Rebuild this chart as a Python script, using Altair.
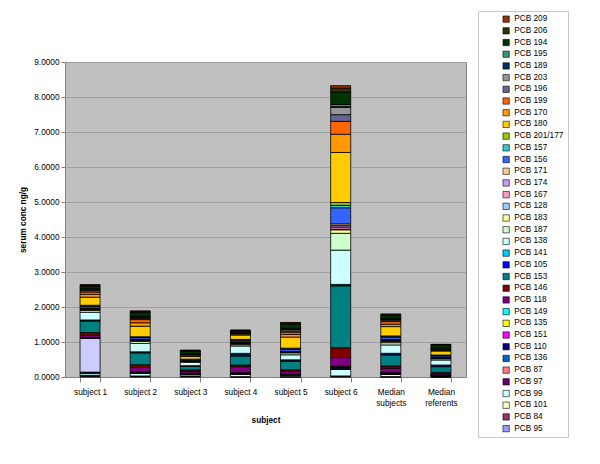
import altair as alt
import pandas as pd

categories = ["subject 1", "subject 2", "subject 3", "subject 4", "subject 5",
              "subject 6", "Median subjects", "Median referents"]

UNLISTED = "unlisted congener"

# stacking order, bottom to top
series = ["PCB 95", "PCB 84", "PCB 101", "PCB 99", "PCB 97", "PCB 87", "PCB 136", UNLISTED,
          "PCB 110", "PCB 151", "PCB 135", "PCB 149", "PCB 118", "PCB 146", "PCB 153",
          "PCB 105", "PCB 141", "PCB 138", "PCB 187", "PCB 183", "PCB 128", "PCB 167",
          "PCB 174", "PCB 171", "PCB 156", "PCB 157", "PCB 201/177", "PCB 180", "PCB 170",
          "PCB 199", "PCB 196", "PCB 203", "PCB 189", "PCB 195", "PCB 194", "PCB 206", "PCB 209"]

colors = ["#9999FF", "#993366", "#FFFFCC", "#CCFFFF", "#660066", "#FF8080", "#0066CC", "#CCCCFF",
          "#000080", "#FF00FF", "#FFFF00", "#00FFFF", "#800080", "#800000", "#008080",
          "#0000FF", "#00CCFF", "#CCFFFF", "#CCFFCC", "#FFFF99", "#99CCFF", "#FF99CC",
          "#CC99FF", "#FFCC99", "#3366FF", "#33CCCC", "#99CC00", "#FFCC00", "#FF9900",
          "#FF6600", "#666699", "#969696", "#003366", "#339966", "#003300", "#333300", "#993300"]

subject_1 = [0.02, 0.015, 0.015, 0.06, 0.01, 0.01, 0.01, 0.96,
             0.01, 0.005, 0.01, 0.005, 0.06, 0.08, 0.33,
             0.015, 0.015, 0.22, 0.05, 0.03, 0.01, 0.01,
             0.01, 0.01, 0.05, 0.01, 0.02, 0.23, 0.08,
             0.07, 0.04, 0.03, 0.01, 0.01, 0.07, 0.03, 0.02]

subject_2 = [0.01, 0.01, 0.01, 0.08, 0.005, 0.005, 0.005, 0.005,
             0.005, 0.005, 0.005, 0.005, 0.12, 0.08, 0.34,
             0.015, 0.015, 0.24, 0.06, 0.02, 0.01, 0.01,
             0.01, 0.01, 0.05, 0.01, 0.01, 0.30, 0.10,
             0.09, 0.03, 0.03, 0.02, 0.02, 0.10, 0.03, 0.02]

subject_3 = [0.01, 0.01, 0.01, 0.04, 0.005, 0.005, 0.005, 0.005,
             0.005, 0.005, 0.005, 0.005, 0.06, 0.03, 0.10,
             0.015, 0.01, 0.095, 0.02, 0.01, 0.005, 0.005,
             0.005, 0.005, 0.03, 0.005, 0.005, 0.075, 0.02,
             0.03, 0.01, 0.01, 0.005, 0.005, 0.07, 0.02, 0.015]

subject_4 = [0.003, 0.003, 0.004, 0.066, 0.006, 0.006, 0.006, 0.006,
             0.006, 0.006, 0.006, 0.006, 0.17, 0.048, 0.258,
             0.05, 0.026, 0.21, 0.037, 0.02, 0.014, 0.014,
             0.014, 0.014, 0.038, 0.018, 0.02, 0.124, 0.028,
             0.02, 0.005, 0.005, 0.005, 0.005, 0.045, 0.02, 0.01]

subject_5 = [0.004, 0.004, 0.004, 0.045, 0.003, 0.003, 0.003, 0.003,
             0.003, 0.003, 0.003, 0.003, 0.076, 0.048, 0.238,
             0.028, 0.02, 0.143, 0.056, 0.02, 0.005, 0.005,
             0.005, 0.005, 0.06, 0.015, 0.02, 0.315, 0.076,
             0.067, 0.036, 0.04, 0.01, 0.02, 0.12, 0.03, 0.02]

subject_6 = [0.01, 0.01, 0.01, 0.19, 0.01, 0.01, 0.01, 0.01,
             0.015, 0.01, 0.01, 0.01, 0.25, 0.28, 1.77,
             0.02, 0.02, 0.98, 0.48, 0.10, 0.02, 0.06,
             0.04, 0.05, 0.46, 0.07, 0.08, 1.43, 0.52,
             0.37, 0.19, 0.21, 0.02, 0.06, 0.36, 0.11, 0.07]

median_subjects = [0.004, 0.004, 0.004, 0.064, 0.006, 0.006, 0.006, 0.006,
                   0.006, 0.006, 0.006, 0.006, 0.124, 0.067, 0.315,
                   0.028, 0.02, 0.238, 0.065, 0.03, 0.0155, 0.0155,
                   0.0155, 0.0155, 0.06, 0.02, 0.02, 0.267, 0.067,
                   0.076, 0.035, 0.03, 0.01, 0.02, 0.084, 0.02, 0.02]

median_referents = [0.003, 0.003, 0.003, 0.016, 0.004, 0.004, 0.004, 0.004,
                    0.004, 0.004, 0.004, 0.004, 0.036, 0.04, 0.162,
                    0.028, 0.02, 0.143, 0.036, 0.012, 0.01, 0.01,
                    0.01, 0.01, 0.035, 0.01, 0.01, 0.114, 0.017,
                    0.012, 0.02, 0.02, 0.008, 0.02, 0.064, 0.02, 0.01]

y_ticks = [0, 1, 2, 3, 4, 5, 6, 7, 8, 9]

all_values = [subject_1, subject_2, subject_3, subject_4, subject_5,
              subject_6, median_subjects, median_referents]

rows = []
for cat, vals in zip(categories, all_values):
    for i, (s, v) in enumerate(zip(series, vals)):
        rows.append({"subject": cat, "congener": s, "value": v, "stack_order": i})
df = pd.DataFrame(rows)

legend_names = [s for s in reversed(series) if s != UNLISTED]

FS = 8.25

chart = alt.Chart(df).mark_bar(stroke="black", strokeWidth=0.8).encode(
    x=alt.X("subject:N", sort=categories,
            scale=alt.Scale(paddingInner=0.6, paddingOuter=0.3),
            axis=alt.Axis(title="subject", labelAngle=0, tickBand="extent",
                          labelExpr="indexof(datum.label, 'Median') == 0 ? split(datum.label, ' ') : datum.label",
                          labelLineHeight=11, labelFontSize=FS, labelPadding=5, tickSize=5,
                          tickColor="#808080", domainColor="#808080", labelColor="black",
                          titleFontSize=FS, titleFontWeight="bold", titlePadding=9,
                          titleColor="black", grid=False)),
    y=alt.Y("value:Q", stack="zero",
            scale=alt.Scale(domain=[0, 9], nice=False),
            axis=alt.Axis(title="serum conc ng/g", values=y_ticks, format=".4f",
                          labelFontSize=FS, labelColor="black", labelPadding=2, tickSize=4,
                          tickColor="#808080", domainColor="#808080",
                          gridColor="#A0A0A0", titleFontSize=FS, titleFontWeight="bold",
                          titleColor="black", titlePadding=6)),
    color=alt.Color("congener:N",
                    scale=alt.Scale(domain=list(reversed(series)), range=list(reversed(colors))),
                    legend=alt.Legend(values=legend_names, title=None, orient="none",
                                      legendX=413, legendY=-51, symbolType="square",
                                      symbolSize=40, symbolStrokeColor="black",
                                      symbolStrokeWidth=0.6, labelFontSize=FS,
                                      labelColor="black", rowPadding=1.7, padding=4,
                                      symbolOffset=20, fillColor="white",
                                      symbolLimit=60,
                                      labelExpr="datum.label + '\u00a0\u00a0\u00a0\u00a0\u00a0\u00a0\u00a0\u00a0\u00a0\u00a0'",
                                      strokeColor="#C8C8C8", labelOffset=4)),
    order=alt.Order("stack_order:Q", sort="ascending"),
).properties(
    width=401, height=315,
    autosize=alt.AutoSizeParams(type="none"),
    padding={"left": 57, "top": 54, "right": 126, "bottom": 75},
).configure(
    font="Liberation Sans"
).configure_view(
    fill="#C0C0C0", stroke="#808080"
)

chart.save("out.html", embed_options={"renderer": "svg", "actions": False})
